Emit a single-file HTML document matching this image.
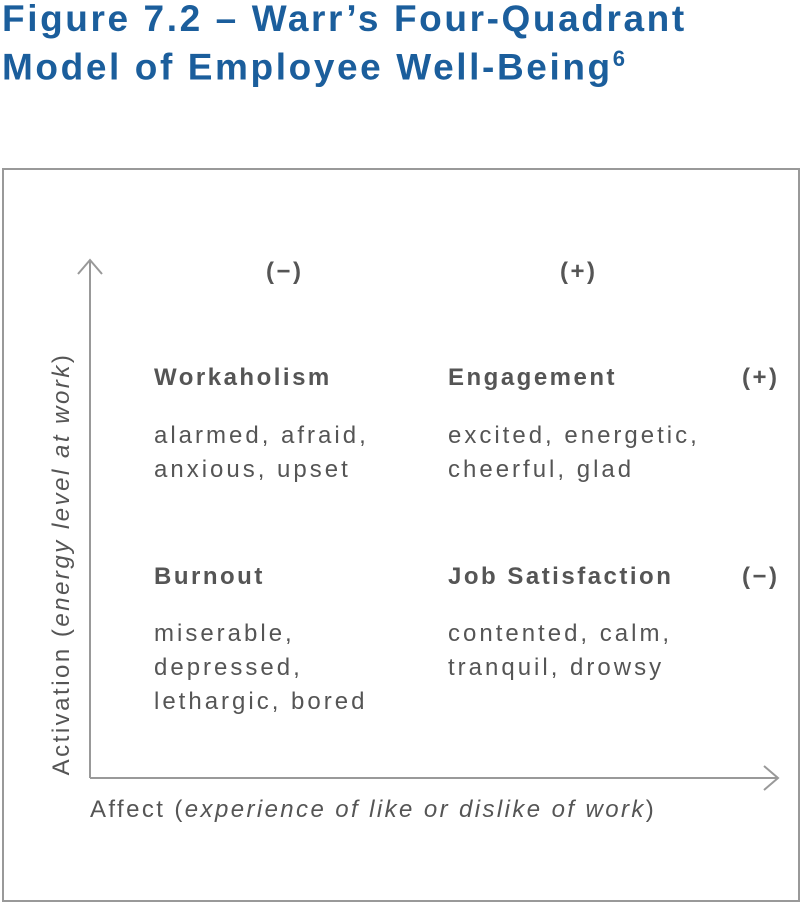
<!DOCTYPE html>
<html><head><meta charset="utf-8"><style>
body{margin:0;width:800px;height:903px;background:#fff;font-family:"Liberation Sans",sans-serif;position:relative;overflow:hidden}
.t{position:absolute;color:#1b5e9c;font-weight:bold;font-size:37px;left:2px;white-space:nowrap;letter-spacing:2.6px}
.l{position:absolute;color:#555;font-size:24px;white-space:nowrap;letter-spacing:3px;line-height:34px}
.b{font-weight:bold;letter-spacing:2.5px}
</style></head><body>
<div class="t" style="top:-2px">Figure 7.2 – Warr’s Four-Quadrant</div>
<div class="t" style="top:46px">Model of Employee Well-Being<sup style="font-size:22px">6</sup></div>
<div style="position:absolute;left:2px;top:168px;width:794px;height:730px;border:2px solid #999"></div>
<svg width="800" height="903" style="position:absolute;left:0;top:0">
<g stroke="#999" stroke-width="2" fill="none">
<line x1="90" y1="260" x2="90" y2="778"/><line x1="90" y1="778" x2="778" y2="778"/>
<polyline points="78,274 90,260 102,274"/><polyline points="764,766 778,778 764,790"/>
</g></svg>
<div class="l b" style="left:266px;top:255px">(−)</div>
<div class="l b" style="left:560px;top:255px">(+)</div>
<div class="l b" style="left:154px;top:361px">Workaholism</div>
<div class="l b" style="left:448px;top:361px">Engagement</div>
<div class="l b" style="left:742px;top:361px">(+)</div>
<div class="l" style="left:154px;top:419px">alarmed, afraid,<br>anxious, upset</div>
<div class="l" style="left:448px;top:419px">excited, energetic,<br>cheerful, glad</div>
<div class="l b" style="left:154px;top:560px">Burnout</div>
<div class="l b" style="left:448px;top:560px">Job Satisfaction</div>
<div class="l b" style="left:742px;top:560px">(−)</div>
<div class="l" style="left:154px;top:617px">miserable,<br>depressed,<br>lethargic, bored</div>
<div class="l" style="left:448px;top:617px">contented, calm,<br>tranquil, drowsy</div>
<div class="l" style="left:90px;top:793px;letter-spacing:2.4px">Affect (<i>experience of like or dislike of work</i>)</div>
<div class="l" style="left:62px;top:564px;letter-spacing:2.5px;transform:translate(-50%,-50%) rotate(-90deg)">Activation (<i>energy level at work</i>)</div>
</body></html>
